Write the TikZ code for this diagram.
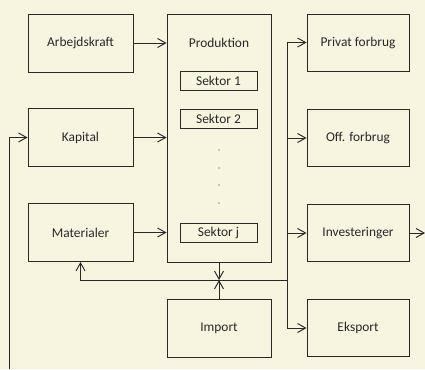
\documentclass[tikz,border=0pt]{standalone}
\usepackage{fontspec}
\setmainfont{Carlito}
\usetikzlibrary{arrows.meta}
\definecolor{papir}{RGB}{247,245,224}
\definecolor{streg}{RGB}{40,40,40}

\begin{document}
\begin{tikzpicture}
  [x=1pt,y=-1pt,
   every node/.style={font=\fontsize{13.4}{15}\selectfont,text=streg},
   box/.style={draw=streg,line width=0.95pt,minimum width=105pt,minimum height=58pt},
   sektor/.style={draw=streg,line width=0.95pt,minimum width=77pt,minimum height=19pt,inner sep=0pt},
   arr/.style={draw=streg,line width=0.95pt,-{Straight Barb[length=8pt,width=9pt]}},
   ln/.style={draw=streg,line width=0.95pt}]
  \fill[papir] (0,0) rectangle (425,369);
  \useasboundingbox (0,0) rectangle (425,369);

  % faktorer
  \node[box] (arb) at (80.5,43) {Arbejdskraft};
  \node[box] (kap) at (80.5,137.5) {Kapital};
  \node[box] (mat) at (80.5,232.5) {Materialer};

  % produktion med sektorer
  \node[box,minimum width=104pt,minimum height=248pt] (prod) at (219,138) {};
  \node (prodtxt) at (219,43) {Produktion};
  \node[sektor] (s1) at (218.5,80.5) {Sektor 1};
  \node[sektor] (s2) at (218.5,118.5) {Sektor 2};
  \node[sektor] (sj) at (218.5,233) {Sektor j};
  \foreach \y [count=\i] in {150,168,185,203}
    \fill[streg] (219,\y) circle (0.7pt) coordinate (dot\i);

  % anvendelse
  \node[box,minimum width=102pt,minimum height=57pt] (priv) at (358,42.5) {Privat forbrug};
  \node[box,minimum width=102pt,minimum height=57pt] (off) at (358,138) {Off. forbrug};
  \node[box,minimum width=102pt,minimum height=57pt] (inv) at (358,233) {Investeringer};
  \node[box,minimum width=102pt,minimum height=57pt] (eks) at (358,328) {Eksport};
  \node[box,minimum width=104pt,minimum height=58pt] (imp) at (219,328) {Import};

  \coordinate (j) at (219,280);
  \coordinate (r) at (287,280);
  \coordinate (ud) at (425,233);
  \coordinate (bund) at (9,369);

  \foreach \from in {arb,kap,mat}
    \draw[arr] (\from.east) -- (\from.east -| prod.west);

  \draw[ln] (j) -- (r);
  \draw[arr] (j) -| (mat.south);
  \draw[arr] (prod.south) -- (j);
  \draw[arr] (imp.north) -- (j);
  \foreach \to in {priv,off,inv,eks}
    \draw[arr] (r) |- (\to.west);
  \draw[arr] (inv.east) -- (ud);
  \draw[arr] (bund) |- (kap.west);

\end{tikzpicture}
\end{document}
